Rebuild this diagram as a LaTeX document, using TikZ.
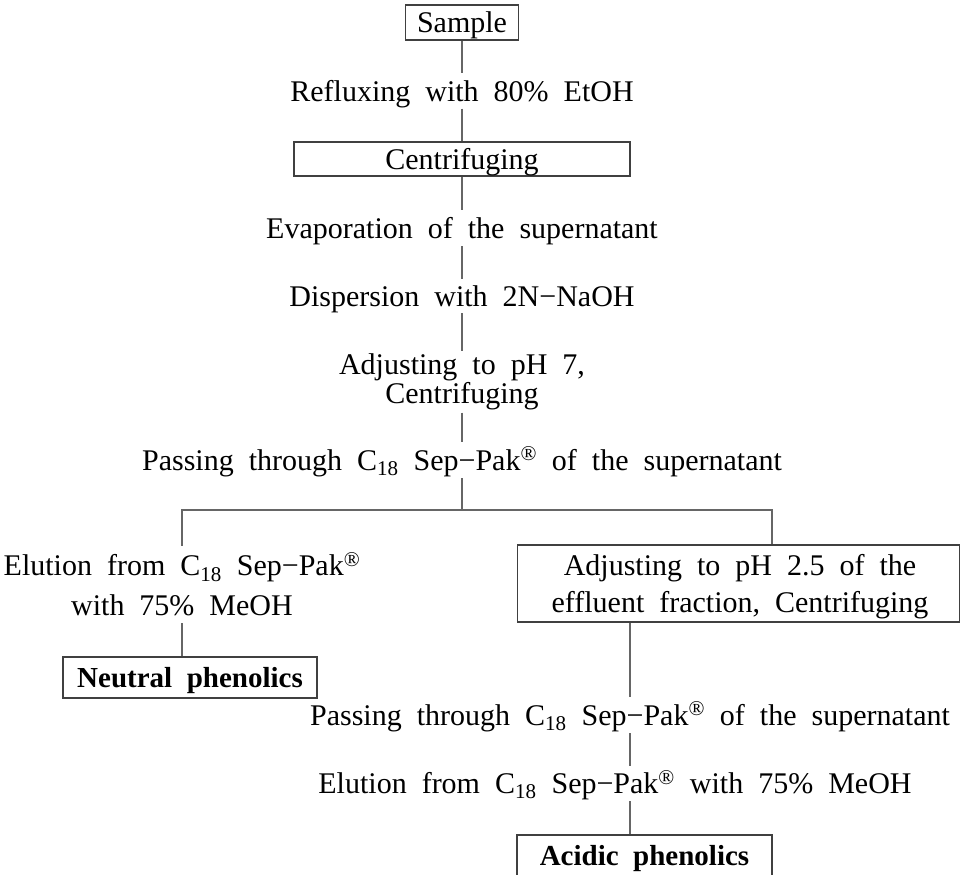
\documentclass[tikz,border=0pt]{standalone}
\usepackage{fontspec}
\setmainfont[WordSpace=2.0]{Liberation Serif}
\usetikzlibrary{calc}
\definecolor{linegray}{gray}{0.4}
\definecolor{boxgray}{gray}{0.25}
\begin{document}
\begin{tikzpicture}[x=1pt,y=-1pt,
  every node/.style={font=\fontsize{30}{33}\selectfont, inner sep=0pt},
  one/.style={text height=20pt, text depth=0pt},
  txt/.style={align=center},
  box/.style={draw=boxgray, line width=1.2pt, align=center},
  bold/.style={font=\fontsize{29}{32}\selectfont\bfseries},
  link/.style={draw=linegray, line width=1.3pt}]
\useasboundingbox (0,0) rectangle (961,875);
\clip (0,0) rectangle (961,875);

\node[box, one, minimum width=113pt, minimum height=35pt] (sample) at (462,22.5) {Sample};
\node[txt, one, minimum height=35pt] (reflux) at (462,91) {Refluxing with 80\% EtOH};
\node[box, one, minimum width=336pt, minimum height=34pt] (cent) at (462,159) {Centrifuging};
\node[txt, one, minimum height=36pt] (evap) at (462,228) {Evaporation of the supernatant};
\node[txt, one, minimum height=34pt] (disp) at (462,296) {Dispersion with 2N−NaOH};
\node[txt, minimum height=61pt, font=\fontsize{30}{25}\selectfont] (adj) at (462,382) {Adjusting to pH 7,\\Centrifuging};
\node[txt, one, minimum height=36pt] (pass1) at (462,460) {Passing through C\textsubscript{18} Sep−Pak\textsuperscript{\textregistered} of the supernatant};
\coordinate (split) at (462,510);
\coordinate (rsplit) at (772,510);

\node[txt, minimum height=77pt, font=\fontsize{30}{40}\selectfont] (elutL) at (182,584.5) {Elution from C\textsubscript{18} Sep−Pak\textsuperscript{\textregistered}\\with 75\% MeOH};
\node[box, one, bold, minimum width=254pt, minimum height=41pt] (neutral) at (190,677.5) {Neutral phenolics};

\node[box, minimum width=442pt, minimum height=77pt] (adj2) at (738.5,583.5) {};
\node[txt, font=\fontsize{30}{37}\selectfont] (adj2t) at (740,587) {Adjusting to pH 2.5 of the\\effluent fraction, Centrifuging};
\node[txt, one, minimum height=36pt] (pass2) at (630,715) {Passing through C\textsubscript{18} Sep−Pak\textsuperscript{\textregistered} of the supernatant};
\node[txt, one, minimum height=35pt] (elut2) at (615,783.5) {Elution from C\textsubscript{18} Sep−Pak\textsuperscript{\textregistered} with 75\% MeOH};
\node[box, one, bold, minimum width=255pt, minimum height=41pt] (acid) at (644.5,855.5) {Acidic phenolics};

\draw[link] (sample.south) -- (reflux.north);
\draw[link] (reflux.south) -- (cent.north);
\draw[link] (cent.south) -- (evap.north);
\draw[link] (evap.south) -- (disp.north);
\draw[link] (disp.south) -- (adj.north);
\draw[link] (adj.south) -- (pass1.north);
\draw[link] (pass1.south) -- (split);
\draw[link] (elutL.north) |- (rsplit) -- (rsplit |- adj2.north);
\draw[link] (elutL.south) -- (elutL.south |- neutral.north);
\draw[link] (adj2.south -| pass2.north) -- (pass2.north);
\draw[link] (pass2.south) -- (pass2.south |- elut2.north);
\draw[link] (pass2.south |- elut2.south) -- (pass2.south |- acid.north);
\end{tikzpicture}
\end{document}
